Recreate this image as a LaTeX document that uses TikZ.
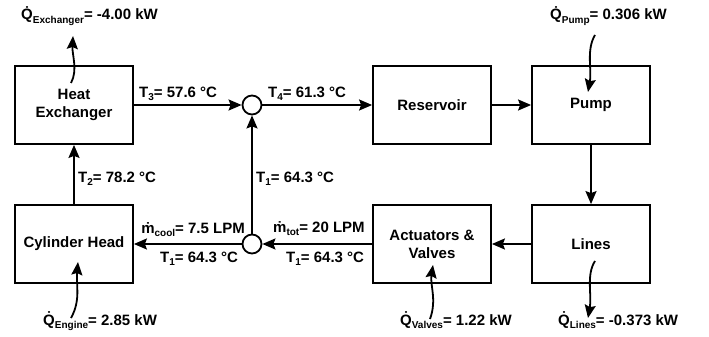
\documentclass[tikz,border=0pt]{standalone}
\usepackage{fontspec}
\setmainfont{Liberation Sans}
\usetikzlibrary{arrows.meta}
\newcommand\mysub[1]{\raisebox{-0.45ex}{\fontsize{10}{10}\selectfont #1}}
\begin{document}
\begin{tikzpicture}[x=1pt,y=-1pt,
  blk/.style={draw, line width=1.8pt, minimum width=118pt, minimum height=78pt, align=center, inner sep=0pt, font=\fontsize{15}{18}\selectfont\bfseries},
  junc/.style={circle, draw, line width=1.8pt, minimum size=19pt, inner sep=0pt},
  flow/.style={line width=1.8pt, -{Stealth[length=13pt,width=11pt,inset=2pt]}},
  lab/.style={inner sep=0pt, font=\fontsize{15}{18}\selectfont\bfseries}]
\useasboundingbox (0,0) rectangle (709,337);
% blocks
\node[blk] (he) at (74,105) {Heat\\Exchanger};
\node[blk] (res) at (432,105) {Reservoir};
\node[blk] (pump) at (591,105) {Pump};
\node[blk] (cyl) at (74,244) {Cylinder Head};
\node[blk] (act) at (432,244) {Actuators \&\\Valves};
\node[blk] (lines) at (591,244) {Lines};
\node[junc] (jt) at (252,105) {};
\node[junc] (jb) at (252,244) {};
% flows
\draw[flow] (he.east) -- (jt.west);
\draw[flow] (jt.east) -- (res.west);
\draw[flow] (res.east) -- (pump.west);
\draw[flow] (pump.south) -- (lines.north);
\draw[flow] (lines.west) -- (act.east);
\draw[flow] (act.west) -- (jb.east);
\draw[flow] (jb.west) -- (cyl.east);
\draw[flow] (jb.north) -- (jt.south);
\draw[flow] (cyl.north) -- (he.south);
% flow labels
\node[lab, anchor=base west] (t3) at (139,97) {T\mysub{3}= 57.6 °C};
\node[lab, anchor=base west] (t4) at (268,97) {T\mysub{4}= 61.3 °C};
\node[lab, anchor=base west] (t2) at (78,182) {T\mysub{2}= 78.2 °C};
\node[lab, anchor=base west] (t1v) at (256,182) {T\mysub{1}= 64.3 °C};
\node[lab, anchor=base east] (mc) at (245,233) {\.{m}\mysub{cool}= 7.5 LPM};
\node[lab, anchor=base west] (t1l) at (160,262) {T\mysub{1}= 64.3 °C};
\node[lab, anchor=base west] (mt) at (273,232) {\.{m}\mysub{tot}= 20 LPM};
\node[lab, anchor=base west] (t1r) at (286,262) {T\mysub{1}= 64.3 °C};
% heat labels
\node[lab, anchor=base west] (qex) at (21,19.5) {\.{Q}\mysub{Exchanger}= -4.00 kW};
\node[lab, anchor=base west] (qpu) at (550,20) {\.{Q}\mysub{Pump}= 0.306 kW};
\node[lab, anchor=base west] (qen) at (43,325) {\.{Q}\mysub{Engine}= 2.85 kW};
\node[lab, anchor=base west] (qva) at (400,325) {\.{Q}\mysub{Valves}= 1.22 kW};
\node[lab, anchor=base west] (qli) at (558,325) {\.{Q}\mysub{Lines}= -0.373 kW};
% heat arrows
\coordinate (a1) at (71,83);  \coordinate (b1) at (73,36);
\coordinate (a2) at (595,35); \coordinate (b2) at (588,92);
\coordinate (a3) at (71,318); \coordinate (b3) at (78,262);
\coordinate (a4) at (430,319); \coordinate (b4) at (433,265);
\coordinate (a5) at (595,261); \coordinate (b5) at (588,318);
\draw[flow] (a1) .. controls (78,70) and (72,55) .. (b1);
\draw[flow] (a2) .. controls (586,50) and (592,70) .. (b2);
\draw[flow] (a3) .. controls (81,300) and (76,285) .. (b3);
\draw[flow] (a4) .. controls (437,300) and (430,285) .. (b4);
\draw[flow] (a5) .. controls (586,275) and (592,295) .. (b5);
\end{tikzpicture}
\end{document}
